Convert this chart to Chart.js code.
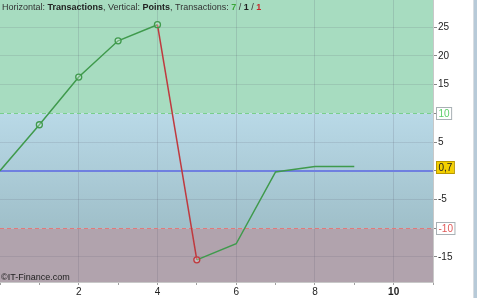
<!DOCTYPE html>
<html>
<head>
<meta charset="utf-8">
<script src="https://cdn.jsdelivr.net/npm/chart.js@4"></script>
<style>
  html, body { margin: 0; padding: 0; background: #fff; }
  #wrap { width: 477px; height: 298px; position: relative; }
</style>
</head>
<body>
<div id="wrap"><canvas id="chart" width="477" height="298"></canvas></div>
<script>
// trade number on x, cumulative points on y
const tradeNo = [0, 1, 2, 3, 4, 5, 6, 7, 8, 9];
const points = [0, 8, 16.3, 22.6, 25.4, -15.5, -12.7, -0.2, 0.75, 0.75];
const markedTrades = [1, 2, 3, 4, 5];
const yTicks = [-15, -10, -5, 0, 5, 10, 15, 20, 25];
const upperLevel = 10;
const lowerLevel = -10;
const lastValue = 0.7;

const GREEN = "#3f9a4c";
const RED = "#c0393e";
const FONT = "Arial, 'Liberation Sans', sans-serif";

const zones = {
  id: "zones",
  beforeDraw(chart) {
    const { ctx, chartArea: a, scales } = chart;
    const y = scales.y;
    const yUp = y.getPixelForValue(upperLevel);
    const yLo = y.getPixelForValue(lowerLevel);
    ctx.save();
    ctx.fillStyle = "#a7dcc0";
    ctx.fillRect(a.left, a.top, a.right - a.left, yUp - a.top);
    const g = ctx.createLinearGradient(0, yUp, 0, yLo);
    g.addColorStop(0, "#b9d9e7");
    g.addColorStop(1, "#9fbfc9");
    ctx.fillStyle = g;
    ctx.fillRect(a.left, yUp, a.right - a.left, yLo - yUp);
    ctx.fillStyle = "#b1a3ad";
    ctx.fillRect(a.left, yLo, a.right - a.left, a.bottom - yLo);
    ctx.restore();
  },
  beforeDatasetsDraw(chart) {
    const { ctx, chartArea: a, scales } = chart;
    const y = scales.y;
    ctx.save();
    ctx.lineWidth = 1;
    ctx.setLineDash([4, 3]);
    ctx.strokeStyle = "#78cf8c";
    let p = Math.round(y.getPixelForValue(upperLevel)) + 0.5;
    ctx.beginPath(); ctx.moveTo(a.left, p); ctx.lineTo(a.right, p); ctx.stroke();
    ctx.strokeStyle = "#e07a7a";
    p = Math.round(y.getPixelForValue(lowerLevel)) + 0.5;
    ctx.beginPath(); ctx.moveTo(a.left, p); ctx.lineTo(a.right, p); ctx.stroke();
    ctx.setLineDash([]);
    ctx.strokeStyle = "#6f80e0";
    ctx.lineWidth = 2;
    p = Math.round(y.getPixelForValue(0));
    ctx.beginPath(); ctx.moveTo(a.left, p); ctx.lineTo(a.right, p); ctx.stroke();
    ctx.restore();
  },
  afterDraw(chart) {
    const { ctx, chartArea: a, scales } = chart;
    const y = scales.y;
    ctx.save();
    // title line
    const parts = [
      ["Horizontal: ", "normal", "#333"],
      ["Transactions", "bold", "#222"],
      [", Vertical: ", "normal", "#333"],
      ["Points", "bold", "#222"],
      [", Transactions: ", "normal", "#333"],
      ["7", "bold", "#3aa63a"],
      [" / ", "normal", "#333"],
      ["1", "bold", "#222"],
      [" / ", "normal", "#333"],
      ["1", "bold", "#c8282c"],
    ];
    let x = 2;
    ctx.textBaseline = "alphabetic";
    parts.forEach(([t, w, c]) => {
      ctx.font = w + " 9px " + FONT;
      ctx.fillStyle = c;
      ctx.fillText(t, x, 10);
      x += ctx.measureText(t).width;
    });
    // watermark
    ctx.font = "9px " + FONT;
    ctx.fillStyle = "#222";
    ctx.fillText("\u00a9IT-Finance.com", 1, 280);

    // level boxes on the right axis
    function box(val, text, fill, border, color) {
      const py = Math.round(y.getPixelForValue(val));
      ctx.font = "10px " + FONT;
      const w = ctx.measureText(text).width + 4;
      ctx.fillStyle = fill;
      ctx.fillRect(a.right + 3, py - 6, w, 12);
      ctx.strokeStyle = border;
      ctx.lineWidth = 1;
      ctx.strokeRect(a.right + 3.5, py - 5.5, w, 12);
      ctx.fillStyle = color;
      ctx.textBaseline = "middle";
      ctx.fillText(text, a.right + 5.5, py + 1);
    }
    box(upperLevel, String(upperLevel), "#ffffff", "#a8b0b4", "#5ccf6a");
    box(lowerLevel, String(lowerLevel), "#ffffff", "#a8b0b4", "#e05858");
    box(lastValue, String(lastValue).replace(".", ","), "#f4d000", "#b89800", "#222");

    // edge of the neighbouring panel
    ctx.fillStyle = "#d8dde2";
    ctx.fillRect(473, 0, 1, 298);
    ctx.fillStyle = "#b7cad8";
    ctx.fillRect(474, 0, 3, 298);
    ctx.restore();
  },
};

new Chart(document.getElementById("chart"), {
  type: "line",
  data: {
    datasets: [
      {
        data: tradeNo.map((t, i) => ({ x: t, y: points[i] })),
        borderColor: GREEN,
        borderWidth: 1.5,
        tension: 0,
        segment: {
          borderColor: (c) => (c.p1.parsed.y < c.p0.parsed.y - 20 ? RED : GREEN),
        },
        pointRadius: tradeNo.map((t) => (markedTrades.includes(t) ? 3 : 0)),
        pointBorderWidth: 1.3,
        pointBorderColor: points.map((v, i) => (i > 0 && v < points[i - 1] - 20 ? RED : GREEN)),
        pointBackgroundColor: "rgba(255,255,255,0.25)",
      },
    ],
  },
  options: {
    responsive: false,
    animation: false,
    layout: { padding: 0 },
    plugins: { legend: { display: false }, tooltip: { enabled: false } },
    scales: {
      x: {
        type: "linear",
        min: 0,
        max: 11,
        afterFit: (s) => { s.height = 16; s.paddingLeft = 0; s.paddingRight = 0; },
        ticks: {
          stepSize: 1,
          autoSkip: false,
          maxRotation: 0,
          padding: 1,
          color: "#222",
          font: (c) => ({ size: 10, family: FONT, weight: c.tick && c.tick.value === 10 ? "bold" : "normal" }),
          callback: (v) => (v > 0 && v % 2 === 0 ? String(v) : ""),
        },
        grid: {
          color: (c) => (c.tick && c.tick.value % 2 === 0 && c.tick.value > 0 ? "rgba(90,90,110,0.18)" : "transparent"),
          tickColor: "#a0a0a0",
          tickLength: 3,
        },
        border: { color: "#c8c8c8" },
      },
      y: {
        position: "right",
        min: -19.35,
        max: 29.7,
        afterFit: (s) => { s.width = 44; s.paddingTop = 0; s.paddingBottom = 0; },
        afterBuildTicks: (s) => { s.ticks = yTicks.map((v) => ({ value: v })); },
        ticks: {
          padding: 1,
          color: "#222",
          font: { size: 10, family: FONT },
          callback: (v) => (v === upperLevel || v === lowerLevel || v === 0 ? "" : String(v)),
        },
        grid: {
          color: (c) => (c.tick && (c.tick.value === upperLevel || c.tick.value === lowerLevel || c.tick.value === 0) ? "transparent" : "rgba(90,90,110,0.15)"),
          tickColor: "#888",
          tickLength: 4,
        },
        border: { color: "#c8c8c8" },
      },
    },
  },
  plugins: [zones],
});
</script>
</body>
</html>
